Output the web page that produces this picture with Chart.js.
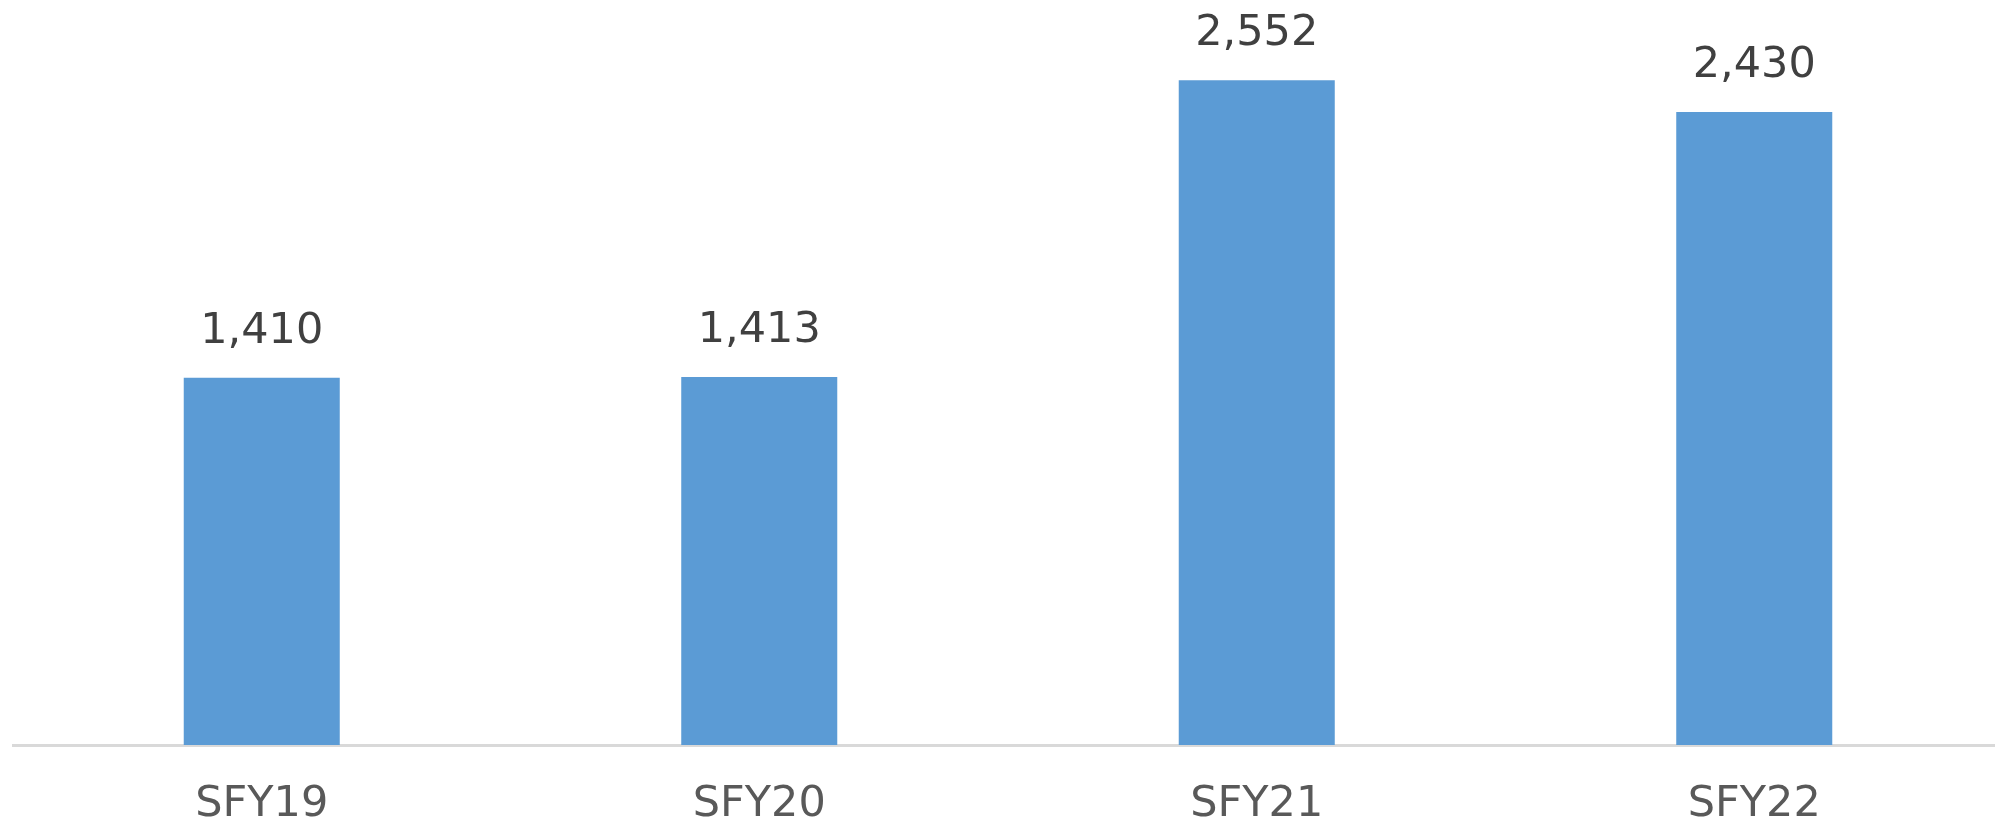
<!DOCTYPE html>
<html>
<head>
<meta charset="utf-8">
<script src="https://cdn.jsdelivr.net/npm/chart.js@4"></script>
<style>
  html, body { margin: 0; padding: 0; background: #fff; overflow: hidden; }
  #wrap { position: absolute; left: 0; top: 0; }
</style>
</head>
<body>
<div id="wrap"><canvas id="grafico" width="2010" height="828"></canvas></div>
<script>
// dados do gráfico
const categorias = ["SFY19", "SFY20", "SFY21", "SFY22"];
const valores = [1410, 1413, 2552, 2430];

const corBarra = "#5B9BD5";
const corTexto = "#595959";
const fonte = "'DejaVu Sans', sans-serif";

// rótulos de valor acima das barras
const rotulosPlugin = {
  id: "rotulos",
  afterDatasetsDraw(chart) {
    const ctx = chart.ctx;
    const meta = chart.getDatasetMeta(0);
    ctx.save();
    ctx.font = "43px " + fonte;
    ctx.fillStyle = "#404040";
    ctx.textAlign = "center";
    ctx.textBaseline = "alphabetic";
    meta.data.forEach((bar, i) => {
      const txt = valores[i].toLocaleString("en-US");
      ctx.fillText(txt, bar.x, bar.y - 35);
    });
    ctx.restore();
  },
};

const ctx = document.getElementById("grafico").getContext("2d");
new Chart(ctx, {
  type: "bar",
  data: {
    labels: categorias,
    datasets: [
      {
        data: valores,
        backgroundColor: corBarra,
        borderWidth: 0,
        categoryPercentage: 1,
        barPercentage: 0.3136,
      },
    ],
  },
  options: {
    responsive: false,
    animation: false,
    devicePixelRatio: 1,
    layout: { padding: { left: 13, right: 7, top: 0, bottom: 0 } },
    plugins: {
      legend: { display: false },
      tooltip: { enabled: false },
    },
    scales: {
      x: {
        z: 1,
        grid: { display: true, drawOnChartArea: false, drawTicks: false },
        border: { display: true, color: "#D9D9D9", width: 3 },
        ticks: {
          color: corTexto,
          padding: 38,
          font: { family: fonte, size: 43, lineHeight: 1 },
        },
        afterFit: (scale) => {
          scale.height = 83;
        },
      },
      y: {
        display: false,
        min: 0,
        max: 2860,
      },
    },
  },
  plugins: [rotulosPlugin],
});
</script>
</body>
</html>
